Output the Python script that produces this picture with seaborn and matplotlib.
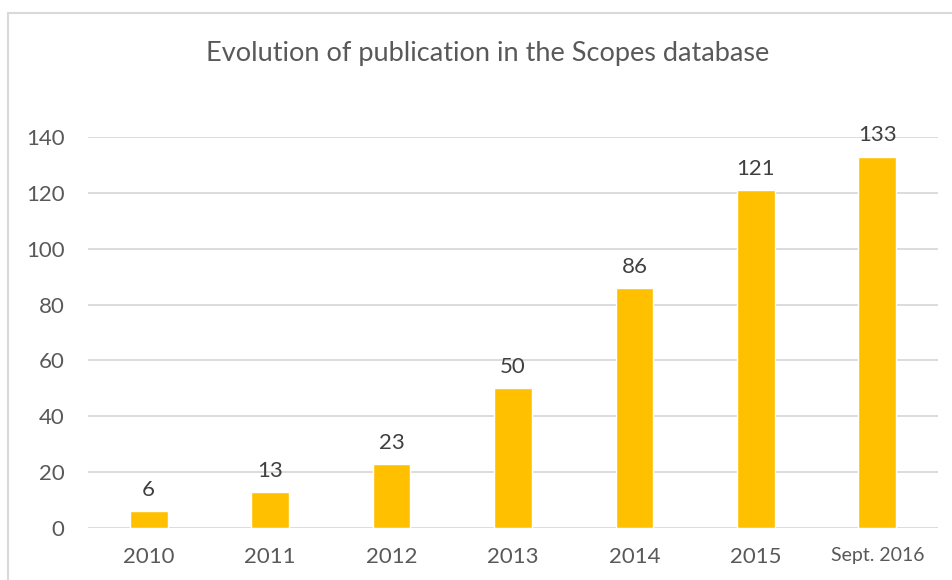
import matplotlib
matplotlib.use("Agg")
import matplotlib.pyplot as plt
import seaborn as sns
import pandas as pd
from matplotlib.patches import Rectangle

years = ['2010', '2011', '2012', '2013', '2014', '2015', 'Sept. 2016']
publications = [6, 13, 23, 50, 86, 121, 133]

df = pd.DataFrame({'year': years, 'publications': publications})

sns.set_style('white')
plt.rcParams['font.family'] = ['Lato', 'DejaVu Sans']
text_color = '#595959'

fig = plt.figure(figsize=(9.53, 5.80), dpi=100)
ax = fig.add_axes([88 / 953, 1 - 528 / 580, 850 / 953, 391 / 580])

sns.barplot(data=df, x='year', y='publications', color='#FFC000',
            width=0.31, saturation=1, ax=ax)

ax.set_ylim(0, 140)
ax.set_yticks(range(0, 141, 20))
ax.grid(axis='y', color='#D9D9D9', linewidth=1.3)
ax.set_axisbelow(True)
sns.despine(ax=ax, left=True, bottom=True, top=True, right=True)
ax.set_xlabel('')
ax.set_ylabel('')
ax.tick_params(axis='y', length=0, pad=17, labelsize=16, labelcolor=text_color)
ax.tick_params(axis='x', length=0, pad=14, labelsize=16, labelcolor=text_color)
ax.get_xticklabels()[-1].set_fontsize(14)

# value labels
for i, v in enumerate(publications):
    ax.annotate(str(v), (i, v), xytext=(0, 8), textcoords='offset points',
                ha='center', va='bottom', fontsize=16, color='#404040',
                clip_on=False, annotation_clip=False)

fig.text(488 / 953, 1 - 53 / 580, 'Evolution of publication in the Scopes database',
         ha='center', va='center', fontsize=19.5, color=text_color)

# chart frame (cut off at right and bottom)
fig.patches.append(Rectangle((8 / 953, -0.05), 1.0, 1 - 13 / 580 + 0.05,
                             transform=fig.transFigure, fill=False,
                             edgecolor='#D9D9D9', linewidth=1.5))

plt.savefig('out.png', dpi=100)
